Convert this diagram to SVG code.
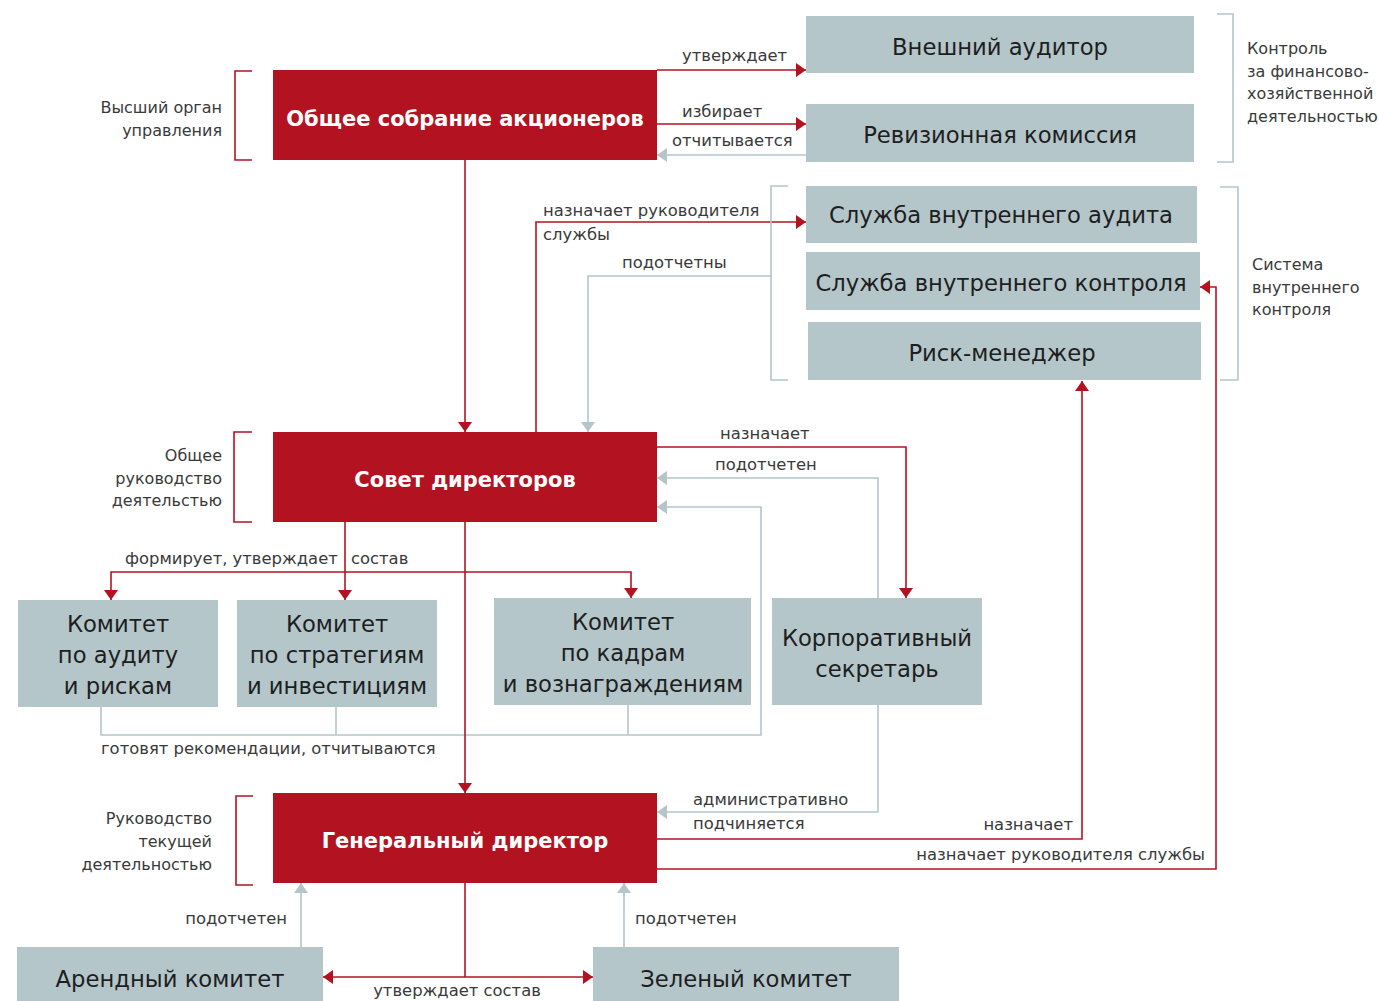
<svg xmlns="http://www.w3.org/2000/svg" width="1379" height="1001" viewBox="0 0 1379 1001">
<defs>
<style>
.bg{fill:#ffffff}
.box{fill:#b4c6ca}
.main{fill:#b31321}
.bt{font-family:"DejaVu Sans","Noto Sans",sans-serif;font-size:22.7px;fill:#1e1e1e;text-anchor:middle}
.mt{font-family:"DejaVu Sans","Noto Sans",sans-serif;font-size:21px;font-weight:bold;fill:#ffffff;text-anchor:middle}
.lb{font-family:"DejaVu Sans","Noto Sans",sans-serif;font-size:16.4px;fill:#3a3a3a}
.side{font-family:"DejaVu Sans","Noto Sans",sans-serif;font-size:16px;fill:#3a3a3a}
.r{fill:none;stroke:#b31321;stroke-width:1.6}
.g{fill:none;stroke:#b4c6ca;stroke-width:1.6}
.ra{marker-end:url(#ar)}
.ga{marker-end:url(#ag)}
</style>
<marker id="ar" markerUnits="userSpaceOnUse" markerWidth="12" markerHeight="14" refX="10" refY="7" orient="auto">
<path d="M0,0 L10,7 L0,14 z" fill="#b31321"/>
</marker>
<marker id="ag" markerUnits="userSpaceOnUse" markerWidth="12" markerHeight="14" refX="10" refY="7" orient="auto">
<path d="M0,0 L10,7 L0,14 z" fill="#b4c6ca"/>
</marker>
</defs>
<rect class="bg" x="0" y="0" width="1379" height="1001"/>

<g id="connectors">
<path class="r ra" d="M657,70 H806"/>
<path class="r ra" d="M657,124 H806"/>
<path class="g ga" d="M806,155 H657"/>
<path class="r ra" d="M465,160 V432"/>
<path class="r ra" d="M536,432 V222 H806"/>
<path class="g" d="M788,186 H771 V380 H788"/>
<path class="g ga" d="M771,276 H588 V432"/>
<path class="r ra" d="M657,447 H906 V598"/>
<path class="g ga" d="M878,598 V478 H657"/>
<path class="g ga" d="M101,707 V735 H761 V507 H657"/>
<path class="g" d="M336,707 V735"/>
<path class="g" d="M628,705 V735"/>
<path class="r ra" d="M345,522 V600"/>
<path class="r ra" d="M345,572 H111 V600"/>
<path class="r ra" d="M345,572 H631 V598"/>
<path class="r ra" d="M465,522 V793"/>
<path class="g ga" d="M878,705 V812 H657"/>
<path class="r ra" d="M657,839 H1082 V381"/>
<path class="r ra" d="M657,869 H1216 V287 H1200"/>
<path class="g ga" d="M301,947 V883"/>
<path class="g ga" d="M624,947 V883"/>
<path class="r" d="M465,883 V977"/>
<path class="r ra" d="M465,977 H323"/>
<path class="r ra" d="M465,977 H593"/>
<path class="r" d="M252,71 H235 V160 H252"/>
<path class="r" d="M252,432 H234 V522 H252"/>
<path class="r" d="M253,796 H236 V885 H253"/>
<path class="g" d="M1217,14 H1233 V162 H1217"/>
<path class="g" d="M1220,187 H1238 V380 H1220"/>
</g>

<g id="labels">
<text class="lb" x="682" y="61">утверждает</text>
<text class="lb" x="682" y="117">избирает</text>
<text class="lb" x="672" y="146">отчитывается</text>
<text class="lb" x="543" y="216">назначает руководителя</text>
<text class="lb" x="543" y="240">службы</text>
<text class="lb" x="622" y="268">подотчетны</text>
<text class="lb" x="720" y="439">назначает</text>
<text class="lb" x="715" y="470">подотчетен</text>
<text class="lb" x="125" y="564">формирует, утверждает</text>
<text class="lb" x="351" y="564">состав</text>
<text class="lb" x="101" y="754">готовят рекомендации, отчитываются</text>
<text class="lb" x="693" y="805">административно</text>
<text class="lb" x="693" y="829">подчиняется</text>
<text class="lb" x="1073" y="830" text-anchor="end">назначает</text>
<text class="lb" x="1205" y="860" text-anchor="end">назначает руководителя службы</text>
<text class="lb" x="287" y="924" text-anchor="end">подотчетен</text>
<text class="lb" x="635" y="924">подотчетен</text>
<text class="lb" x="457" y="996" text-anchor="middle">утверждает состав</text>
<text class="side" text-anchor="end"><tspan x="222" y="113">Высший орган</tspan><tspan x="222" y="136">управления</tspan></text>
<text class="side" text-anchor="end"><tspan x="222" y="461">Общее</tspan><tspan x="222" y="484">руководство</tspan><tspan x="222" y="506">деятельстью</tspan></text>
<text class="side" text-anchor="end"><tspan x="212" y="824">Руководство</tspan><tspan x="212" y="847">текущей</tspan><tspan x="212" y="870">деятельностью</tspan></text>
<text class="side"><tspan x="1247" y="54">Контроль</tspan><tspan x="1247" y="77">за финансово-</tspan><tspan x="1247" y="99">хозяйственной</tspan><tspan x="1247" y="122">деятельностью</tspan></text>
<text class="side"><tspan x="1252" y="270">Система</tspan><tspan x="1252" y="293">внутреннего</tspan><tspan x="1252" y="315">контроля</tspan></text>
</g>

<g id="n-osa"><rect class="main" x="273" y="70" width="384" height="90"/><text class="mt" x="465" y="126">Общее собрание акционеров</text></g>
<g id="n-ext-auditor"><rect class="box" x="806" y="16" width="388" height="57"/><text class="bt" x="1000" y="55">Внешний аудитор</text></g>
<g id="n-revision"><rect class="box" x="806" y="104" width="388" height="58"/><text class="bt" x="1000" y="143">Ревизионная комиссия</text></g>
<g id="n-int-audit"><rect class="box" x="806" y="186" width="391" height="57"/><text class="bt" x="1001" y="223">Служба внутреннего аудита</text></g>
<g id="n-int-control"><rect class="box" x="806" y="252" width="394" height="58"/><text class="bt" x="1001" y="291">Служба внутреннего контроля</text></g>
<g id="n-risk"><rect class="box" x="808" y="322" width="393" height="58"/><text class="bt" x="1002" y="361">Риск-менеджер</text></g>
<g id="n-board"><rect class="main" x="273" y="432" width="384" height="90"/><text class="mt" x="465" y="487">Совет директоров</text></g>
<g id="n-audit-comm"><rect class="box" x="18" y="600" width="200" height="107"/><text class="bt"><tspan x="118" y="632">Комитет</tspan><tspan x="118" y="663">по аудиту</tspan><tspan x="118" y="694">и рискам</tspan></text></g>
<g id="n-strat-comm"><rect class="box" x="237" y="600" width="200" height="107"/><text class="bt"><tspan x="337" y="632">Комитет</tspan><tspan x="337" y="663">по стратегиям</tspan><tspan x="337" y="694">и инвестициям</tspan></text></g>
<g id="n-hr-comm"><rect class="box" x="494" y="598" width="257" height="107"/><text class="bt"><tspan x="623" y="630">Комитет</tspan><tspan x="623" y="661">по кадрам</tspan><tspan x="623" y="692">и вознаграждениям</tspan></text></g>
<g id="n-secretary"><rect class="box" x="772" y="598" width="210" height="107"/><text class="bt"><tspan x="877" y="646">Корпоративный</tspan><tspan x="877" y="677">секретарь</tspan></text></g>
<g id="n-ceo"><rect class="main" x="273" y="793" width="384" height="90"/><text class="mt" x="465" y="848">Генеральный директор</text></g>
<g id="n-rent"><rect class="box" x="17" y="947" width="306" height="54"/><text class="bt" x="170" y="987">Арендный комитет</text></g>
<g id="n-green"><rect class="box" x="593" y="947" width="306" height="54"/><text class="bt" x="746" y="987">Зеленый комитет</text></g>
</svg>
